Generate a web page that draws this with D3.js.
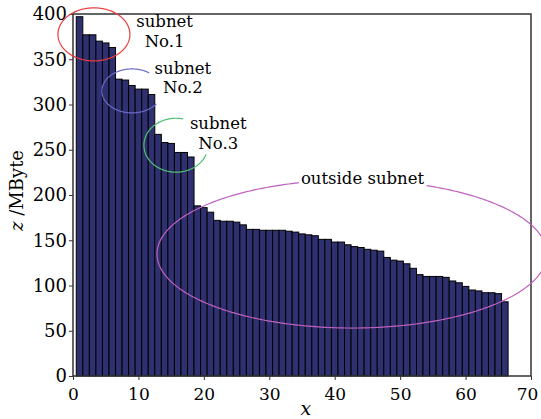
<!DOCTYPE html>
<html><head><meta charset="utf-8">
<script src="https://cdn.jsdelivr.net/npm/d3@7"></script>
<style>
body{margin:0;background:#fff}
svg{display:block}
text{font-family:"DejaVu Serif","Liberation Serif",serif;fill:#000}
</style>
</head><body>
<svg id="chart" width="541" height="419"></svg>
<script>
// ---- data ----
const xIndex = [1,2,3,4,5,6,7,8,9,10,11,12,13,14,15,16,17,18,19,20,21,22,23,24,25,26,27,28,29,30,31,32,33,
  34,35,36,37,38,39,40,41,42,43,44,45,46,47,48,49,50,51,52,53,54,55,56,57,58,59,60,61,62,63,64,65,66];
const zMByte = [397,377,377,370,368,363,328,327,321,317,317,311,267,258,257,247,247,242,188,186,181,172,171,171,
  170,167,162,162,161,161,161,161,160,159,157,156,155,151,151,148,148,145,143,142,140,139,138,131,128,127,124,119,
  112,110,110,110,109,105,103,99,95,94,92,92,91,82];
const xTicks = [0,10,20,30,40,50,60,70];
const yTicks = [0,50,100,150,200,250,300,350,400];
const groupLabels = [["subnet","No.1"],["subnet","No.2"],["subnet","No.3"],["outside subnet"]];
const axisTitles = {x:"x", yVar:"z", yUnit:" /MByte"};

// ---- layout ----
const svg = d3.select("#chart");
const m = {left:73, right:531, top:14, bottom:376};
const x = d3.scaleLinear().domain([0,70]).range([m.left, m.right]);
const y = d3.scaleLinear().domain([0,400]).range([m.bottom, m.top]);

svg.append("rect").attr("width",541).attr("height",419).attr("fill","#fff");

// bars
svg.append("g").selectAll("rect").data(xIndex).join("rect")
  .attr("x", d => x(d - 0.5))
  .attr("width", d => x(d + 0.5) - x(d - 0.5))
  .attr("y", (d,i) => y(zMByte[i]))
  .attr("height", (d,i) => y(0) - y(zMByte[i]))
  .attr("fill", "#2e3070")
  .attr("stroke", "#000")
  .attr("stroke-width", 1);

// axes
const fs = 16.5;
const gx = svg.append("g").attr("transform", `translate(0,${m.bottom})`)
  .call(d3.axisBottom(x).tickValues(xTicks).tickSize(4).tickPadding(4).tickFormat(d3.format("d")));
const gy = svg.append("g").attr("transform", `translate(${m.left},0)`)
  .call(d3.axisLeft(y).tickValues(yTicks).tickSize(4).tickPadding(2).tickFormat(d3.format("d")));
[gx, gy].forEach(g => {
  g.select(".domain").remove();
  g.selectAll("line").attr("stroke","#333");
  g.selectAll("text").style("font-family",'"DejaVu Serif",serif').attr("fill","#000");
});
gy.selectAll("text").style("font-size", "18px");
gx.selectAll("text").style("font-size", "17px").attr("dy","0.95em");
gx.selectAll(".tick").filter(d => d === 70).select("text").attr("dx", "-4");
// frame
svg.append("rect").attr("x", m.left).attr("y", m.top)
  .attr("width", m.right - m.left).attr("height", m.bottom - m.top)
  .attr("fill","none").attr("stroke","#333").attr("stroke-width",1.5);

// axis titles
svg.append("text").attr("x", x(35.6)).attr("y", 415).attr("text-anchor","middle")
  .style("font-size","19px").style("font-style","italic").text(axisTitles.x);
const yt = svg.append("text").attr("transform", `translate(23,${y(205)}) rotate(-90)`)
  .attr("text-anchor","middle").style("font-size", "18px");
yt.append("tspan").style("font-style","italic").text(axisTitles.yVar);
yt.append("tspan").text(axisTitles.yUnit);

// ellipse arcs (data-space centres/radii)
function arc(cx, cy, rx, ry, a0, a1, color) {
  const pts = d3.range(a0, a1 + 0.5, 1).map(a => {
    const t = a * Math.PI / 180;
    return [x(cx) + (x(rx) - x(0)) * Math.cos(t), y(cy) + (y(0) - y(ry)) * Math.sin(t)];
  });
  svg.append("path").attr("d", d3.line()(pts)).attr("fill","none")
    .attr("stroke", color).attr("stroke-width", 1.2);
}
arc(42.64, 134.8, 29.8, 81.8, 0, 360, "#c060c0");
arc(3.2, 377.5, 5.5, 29.3, 0, 360, "#e83c3c");
arc(9.02, 315, 4.6, 24.3, 36, 305, "#6a6ac8");
arc(15.74, 255, 4.9, 29.8, 20, 283, "#50c070");

// labels (multi-line labels as one text element with tspans)
function label(lines, cx, ys, bg) {
  const t = svg.append("text").attr("text-anchor","middle").style("font-size", fs+"px");
  lines.forEach((s, i) => {
    t.append("tspan").attr("x", x(cx)).attr("y", y(ys[i])).text(s);
  });
  if (bg) {
    const b = t.node().getBBox();
    svg.insert("rect", () => t.node())
      .attr("x", b.x - 2).attr("y", b.y - 1).attr("width", b.width + 4).attr("height", b.height + 2)
      .attr("fill","#fff");
  }
}
label(groupLabels[0], 14.0, [385.5, 363.5], false);
label(groupLabels[1], 16.8, [333.6, 312.6], false);
label(groupLabels[2], 22.2, [272.8, 251], false);
label(groupLabels[3], 44.25, [212.2], true);
</script>
</body></html>
